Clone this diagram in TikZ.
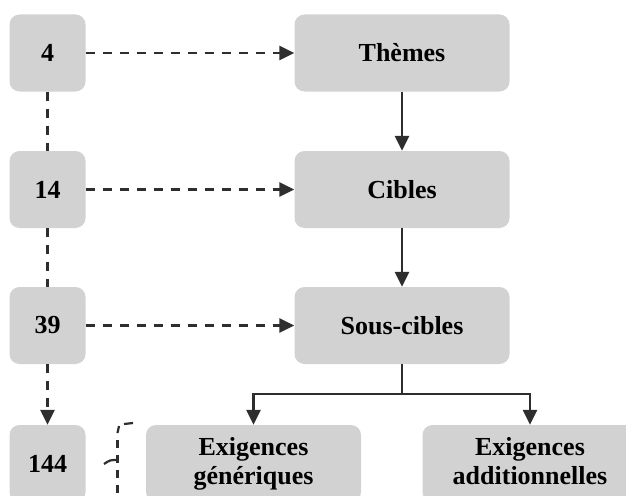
\documentclass[tikz,border=0pt]{standalone}
\usepackage{fontspec}
\setmainfont{Liberation Serif}
\usetikzlibrary{arrows.meta}
\definecolor{boxgray}{HTML}{D2D2D2}
\definecolor{linegray}{HTML}{2E2E2E}
\begin{document}
\begin{tikzpicture}[x=1pt,y=-1pt,
  box/.style={fill=boxgray, rounded corners=10pt, align=center, inner sep=0pt,
    font=\fontsize{26}{29}\selectfont\bfseries},
  numbox/.style={box, minimum width=76pt, minimum height=77pt},
  widebox/.style={box, minimum width=215pt, minimum height=77pt},
  solidline/.style={draw=linegray, line width=2.8pt},
  dashline/.style={solidline, dash pattern=on 9pt off 8pt},
  link/.style={solidline, -{Triangle[length=15pt,width=14pt]}},
  dlink/.style={dashline, -{Triangle[length=15pt,width=14pt]}}]
  \useasboundingbox (0,0) rectangle (626,495);
  \clip (0,0) rectangle (626,495);

  % counts column
  \node[numbox] (n4)   at (47.5,53)    {4};
  \node[numbox] (n14)  at (47.5,189.5) {14};
  \node[numbox] (n39)  at (47.5,325.5) {39};
  \node[numbox] (n144) at (47.5,463.5) {144};

  % hierarchy column
  \node[widebox] (themes)     at (402,53)    {Thèmes};
  \node[widebox] (cibles)     at (402,189.5) {Cibles};
  \node[widebox] (souscibles) at (402,325.5) {Sous-cibles};
  \node[widebox] (gen) at (253.5,463.5) {Exigences\\génériques};
  \node[widebox] (add) at (530,463.5)   {Exigences\\additionnelles\vphantom{g}};

  % counts to levels
  \draw[dlink] (n4) -- (themes);
  \draw[dlink] (n14) -- (cibles);
  \draw[dlink] (n39) -- (souscibles);

  % counts chain
  \draw[dashline] (n4) -- (n14);
  \draw[dashline] (n14) -- (n39);
  \draw[dlink] (n39) -- (n144);

  % hierarchy links
  \draw[link] (themes) -- (cibles);
  \draw[link] (cibles) -- (souscibles);
  \coordinate (split) at (402,394);
  \draw[solidline] (souscibles.south) -- (split);
  \draw[link] (split) -| (gen.north);
  \draw[link] (split) -| (add.north);

  % dashed brace next to the last count
  \draw[solidline, line width=2.2pt] (133,423) -- (124,424);
  \draw[solidline, line width=2.2pt] (119,426) -- (117.5,433);
  \draw[dashline, line width=2.2pt, dash pattern=on 8pt off 7pt] (117.5,440) -- (117.5,500);
  \draw[solidline, line width=2.2pt] (104,464) .. controls (110,460) .. (117.5,460);
\end{tikzpicture}
\end{document}
